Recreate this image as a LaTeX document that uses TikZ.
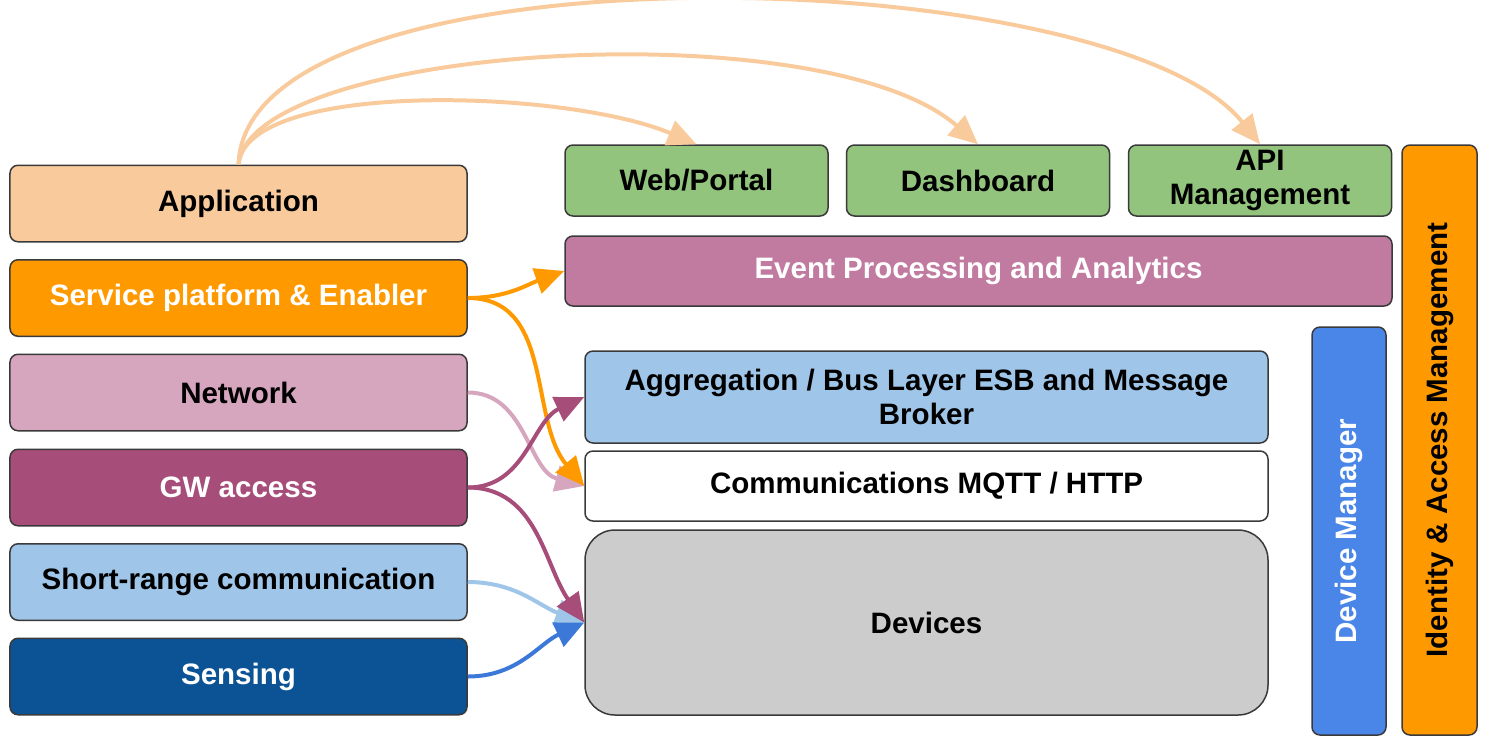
\documentclass[tikz,border=0pt]{standalone}
\usepackage{fontspec}
\setmainfont{Liberation Sans}
\usetikzlibrary{arrows.meta}
\definecolor{boxline}{HTML}{3A3A3A}
\definecolor{appfill}{HTML}{F9CB9C}
\definecolor{orangefill}{HTML}{FF9900}
\definecolor{netfill}{HTML}{D5A6BD}
\definecolor{gwfill}{HTML}{A64D79}
\definecolor{lightblue}{HTML}{9FC5E8}
\definecolor{sensefill}{HTML}{0B5394}
\definecolor{greenfill}{HTML}{93C47D}
\definecolor{eventfill}{HTML}{C27BA0}
\definecolor{greyfill}{HTML}{CCCCCC}
\definecolor{mgrfill}{HTML}{4A86E8}
\definecolor{senseline}{HTML}{3C78D8}
\tikzset{
  layer/.style={draw=boxline, line width=0.3mm, rounded corners=1.6mm, align=center, inner sep=0pt, font=\fontsize{16.8}{19.5}\selectfont\bfseries},
  leftbox/.style={layer, minimum width=91.4mm, minimum height=15.3mm},
  topbox/.style={layer, fill=greenfill, minimum width=52.6mm, minimum height=14.2mm},
  midbox/.style={layer, minimum width=136.6mm},
  link/.style={line width=0.8mm, -{Triangle[length=5.8mm, width=5.2mm]}},
}

\begin{document}
\begin{tikzpicture}[x=0.2mm, y=-0.2mm]
          \useasboundingbox (0, 0) rectangle (1500, 745);
          \node[leftbox,  fill=appfill] (app) at (238.5, 203.5) {Application};
          \node[leftbox,  fill=orangefill,  text=white] (svc) at (238.5, 298) {Service platform \& Enabler};
          \node[leftbox,  fill=netfill] (net) at (238.5, 392.5) {Network};
          \node[leftbox,  fill=gwfill,  text=white] (gw) at (238.5, 487.5) {GW access};
          \node[leftbox,  fill=lightblue] (srange) at (238.5, 582) {Short-range communication};
          \node[leftbox,  fill=sensefill,  text=white] (sensing) at (238.5, 676.5) {Sensing};
          \node[topbox] (web) at (696.5, 180.5) {Web/Portal};
          \node[topbox] (dash) at (978, 180.5) {Dashboard};
          \node[topbox] (api) at (1260, 180.5) {API\\Management};
          \node[layer,  fill=eventfill,  text=white,  minimum width=165.4mm,  minimum height=14mm] (event) at (978.5, 271) {Event Processing and Analytics};
          \node[midbox,  fill=lightblue,  minimum height=18.4mm] (agg) at (926.5, 397) {Aggregation / Bus Layer ESB and Message\\Broker};
          \node[midbox,  fill=white,  minimum height=14mm] (comm) at (926.5, 486) {Communications MQTT / HTTP};
          \node[midbox,  fill=greyfill,  minimum height=37mm,  rounded corners=6mm] (dev) at (926.5, 622.5) {Devices};
          \node[layer,  fill=mgrfill,  text=white,  rotate=90,  minimum width=81.6mm,  minimum height=14.8mm] (devmgr) at (1349, 531) {Device Manager};
          \node[layer,  fill=orangefill,  rotate=90,  minimum width=118mm,  minimum height=15mm] (iam) at (1439.5, 440) {Identity \& Access Management};
          \draw[link,  appfill]  (app.north) .. controls +(8, -85) and +(-130, -55) .. (web.north);
          \draw[link,  appfill]  (app.north) .. controls +(12, -120) and +(-155, -135) .. (dash.north);
          \draw[link,  appfill]  (app.north) .. controls +(7, -225) and +(-148, -185) .. (api.north);
          \draw[link,  netfill]  (net.east) to[out=0,  in=165] (comm.west);
          \draw[link,  orangefill]  (svc.east) to[out=0,  in=200] (event.west);
          \draw[link,  orangefill]  (svc.east) to[out=0,  in=130] (comm.west);
          \draw[link,  gwfill]  (gw.east) to[out=0,  in=205] (agg.west);
          \draw[link,  lightblue]  (srange.east) to[out=0,  in=160] (dev.west);
          \draw[link,  gwfill]  (gw.east) to[out=0,  in=125] (dev.west);
          \draw[link,  senseline]  (sensing.east) to[out=0,  in=205] (dev.west);
      \end{tikzpicture}
\end{document}
